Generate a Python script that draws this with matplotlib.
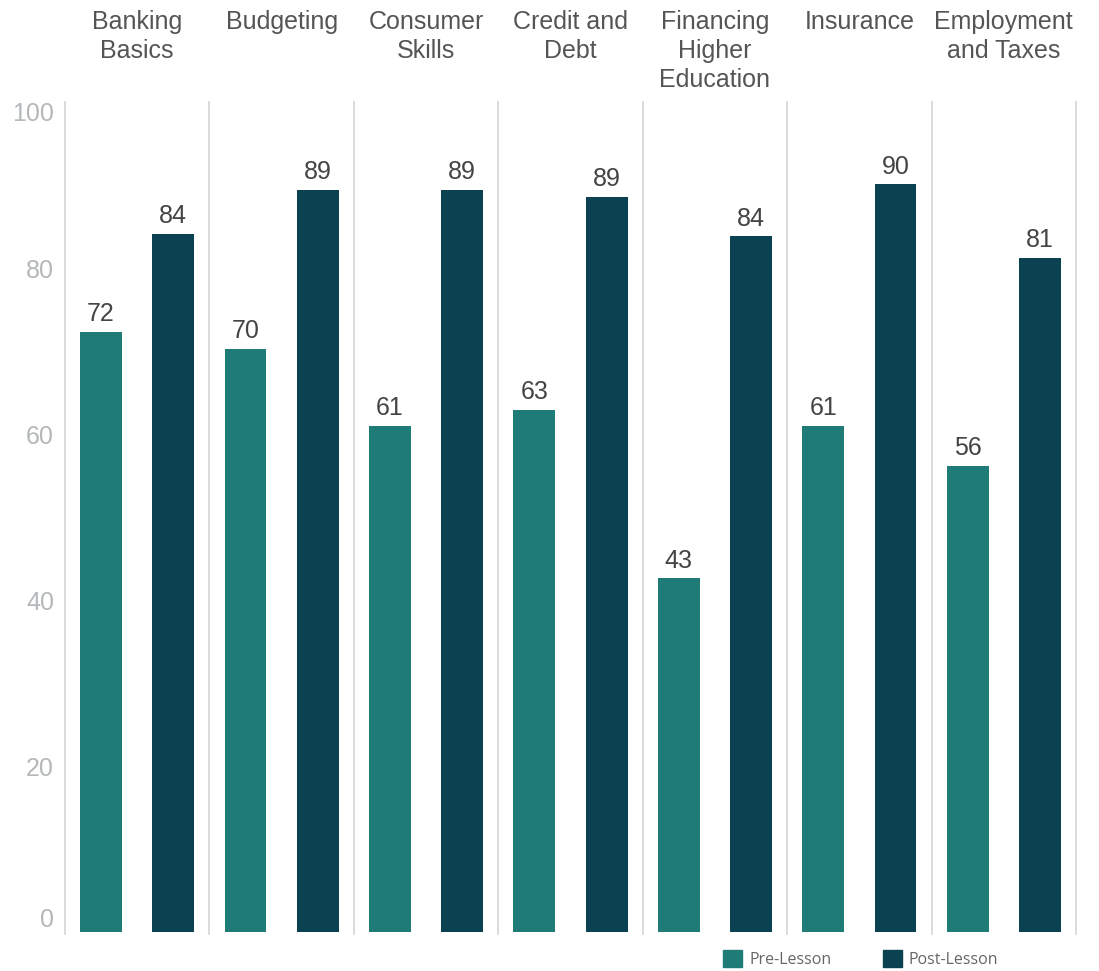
import matplotlib
matplotlib.use("Agg")
import matplotlib.pyplot as plt
from matplotlib.patches import Patch

categories = ["Banking\nBasics", "Budgeting", "Consumer\nSkills", "Credit and\nDebt",
              "Financing\nHigher\nEducation", "Insurance", "Employment\nand Taxes"]
pre_lesson = [72.3, 70.3, 61.0, 62.9, 42.6, 61.0, 56.2]
post_lesson = [84.1, 89.4, 89.4, 88.6, 83.8, 90.1, 81.2]
y_ticks = [0, 20, 40, 60, 80, 100]
series_names = ["Pre-Lesson", "Post-Lesson"]

PRE_C = "#1e7b76"
POST_C = "#0b4251"

plt.rcParams['font.family'] = ['Liberation Sans', 'DejaVu Sans']

W, H = 1099, 971
fig = plt.figure(figsize=(W / 100, H / 100), dpi=100)
left, right = 65 / W, 1076 / W
bottom, top = 1 - 932 / H, 1 - 102 / H
ax = fig.add_axes([left, bottom, right - left, top - bottom])

n = len(categories)
xs = list(range(n))
off = 0.25
bw = 0.29
b1 = ax.bar([x - off for x in xs], pre_lesson, width=bw, color=PRE_C, zorder=2)
b2 = ax.bar([x + off for x in xs], post_lesson, width=bw, color=POST_C, zorder=2)

for bars, vals in ((b1, pre_lesson), (b2, post_lesson)):
    for rect, v in zip(bars, vals):
        ax.annotate(f"{v:.0f}", (rect.get_x() + rect.get_width() / 2, v),
                    xytext=(0, 4), textcoords="offset points",
                    ha="center", va="bottom", fontsize=18, color="#444444")

ax.set_xlim(-0.5, n - 0.5)
ax.set_ylim(0, 100)
for i in range(n + 1):
    ax.axvline(i - 0.5, color="#d4d4d4", lw=1.2, zorder=1, ymin=-0.003, ymax=1.0, clip_on=False)

for s in ax.spines.values():
    s.set_visible(False)
ax.set_xticks([])
ax.set_yticks(y_ticks)
ax.set_yticklabels([str(t) for t in y_ticks])
ax.tick_params(axis="y", length=0, pad=8, labelsize=18, labelcolor="#b4b8ba")
labels = ax.get_yticklabels()
labels[0].set_va("bottom")
labels[-1].set_va("top")

for x, c in zip(xs, categories):
    xf = left + (x + 0.5) / n * (right - left)
    fig.text(xf, 1 - 10 / H, c, ha="center", va="top", fontsize=18,
             color="#555555", linespacing=1.26)

handles = [Patch(color=PRE_C), Patch(color=POST_C)]
fig.legend(handles, series_names, loc="center left",
           bbox_to_anchor=(723 / W, 1 - 959 / H), ncol=2, frameon=False,
           handlelength=1.2, handleheight=1.2, handletextpad=0.45,
           columnspacing=3.2, borderpad=0, borderaxespad=0,
           prop={"family": "Open Sans", "size": 11.5}, labelcolor="#666666")

fig.savefig("out.png", dpi=100)
